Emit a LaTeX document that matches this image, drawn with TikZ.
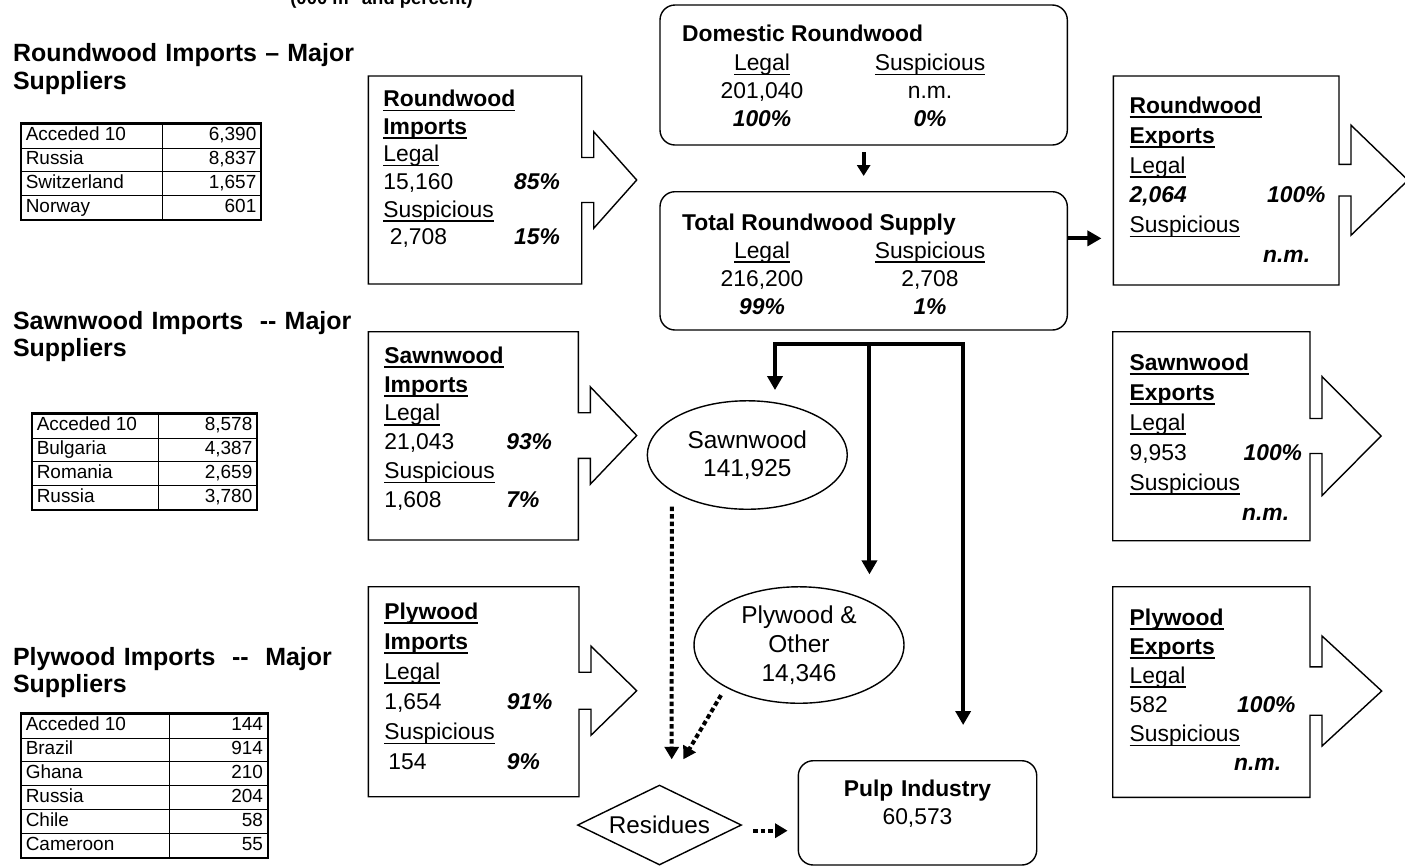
\documentclass[tikz,border=0pt]{standalone}
\usepackage{fontspec}
\setmainfont{Liberation Sans}
\usepackage{array}
\usetikzlibrary{shapes.geometric,arrows.meta,fit,calc}

\setlength{\tabcolsep}{0.08cm}
\newcommand\undl[1]{\leavevmode\setbox0\hbox{#1}\rlap{\rule[-2.6pt]{\wd0}{0.85pt}}\box0}
\newcommand\pct[1]{\textbf{\textit{#1}}}
% box with a block arrow on its right side
\newcommand\arrowbox[9]{%
  \node[fit={(#2,#3) (#4,#5)}, inner sep=0pt] (#1) {};
  \draw[boxline] (#2,#3) -- (#4,#3) -- (#4,{#6-#7}) -- ({#4+12},{#6-#7}) -- ({#4+12},{#6-#8})
    -- (#9,#6) -- ({#4+12},{#6+#8}) -- ({#4+12},{#6+#7}) -- (#4,{#6+#7}) -- (#4,#5) -- (#2,#5) -- cycle;}

\begin{document}
\begin{tikzpicture}[
    x=0.02cm, y=-0.02cm,
    boxline/.style={line width=0.8pt},
    roundbox/.style={draw, line width=0.8pt, rounded corners=0.3cm, inner sep=0pt},
    flow/.style={-{Triangle[width=0.3cm,length=0.28cm]}, line width=0.08cm},
    smallflow/.style={-{Triangle[width=0.26cm,length=0.22cm]}, line width=0.08cm},
    dotflow/.style={-{Triangle[width=0.28cm,length=0.25cm]}, line width=0.08cm, dash pattern=on 0.09cm off 0.06cm},
    hdr/.style={anchor=base west, inner sep=0pt, text width=8cm, align=left, font=\fontsize{14.2}{15.9}\selectfont\bfseries},
    suptab/.style={anchor=north west, inner sep=0pt, font=\fontsize{10.8}{13.2}\selectfont},
    boxtext/.style={anchor=base west, inner sep=0pt, text width=5cm, align=left, font=\fontsize{13}{#1}\selectfont},
    boxtext/.default=16.4pt,
    titletext/.style={anchor=base west, inner sep=0pt, font=\fontsize{13}{15.9}\selectfont\bfseries},
    coltext/.style={anchor=base, inner sep=0pt, text width=3cm, align=center, font=\fontsize{13}{15.9}\selectfont},
    oval/.style={ellipse, draw, line width=0.8pt, inner sep=0pt, align=center}
]
    \useasboundingbox (0,0) rectangle (1405,867);
    \clip (0,0) rectangle (1405,867);

    \node[anchor=base west, inner sep=0pt, font=\fontsize{10.5}{12}\selectfont\bfseries] (unit) at (290,4) {(000 m\textsuperscript{3} and percent)};

    % Major suppliers
    \node[hdr] (rwhdr) at (12.7,61.7) {Roundwood Imports – Major\\Suppliers};
    \node[suptab] (rwtab) at (20.7,123.3) {\begin{tabular}{|p{2.646cm}|>{\raggedleft\arraybackslash}p{1.792cm}|}\hline
        Acceded 10 & 6,390\\\hline Russia & 8,837\\\hline Switzerland & 1,657\\\hline Norway & 601\\\hline\end{tabular}};
    \draw[line width=1.1pt] (rwtab.north west) rectangle (rwtab.south east);

    \node[hdr] (swhdr) at (12.7,329) {Sawnwood Imports\ \ -{}- Major\\Suppliers};
    \node[suptab] (swtab) at (31.7,413.3) {\begin{tabular}{|p{2.338cm}|>{\raggedleft\arraybackslash}p{1.8cm}|}\hline
        Acceded 10 & 8,578\\\hline Bulgaria & 4,387\\\hline Romania & 2,659\\\hline Russia & 3,780\\\hline\end{tabular}};
    \draw[line width=1.1pt] (swtab.north west) rectangle (swtab.south east);

    \node[hdr] (plhdr) at (12.7,665) {Plywood Imports\ \ -{}-\ \ Major\\Suppliers};
    \node[suptab] (pltab) at (20.7,713.3) {\begin{tabular}{|p{2.778cm}|>{\raggedleft\arraybackslash}p{1.794cm}|}\hline
        Acceded 10 & 144\\\hline Brazil & 914\\\hline Ghana & 210\\\hline Russia & 204\\\hline Chile & 58\\\hline Cameroon & 55\\\hline\end{tabular}};
    \draw[line width=1.1pt] (pltab.north west) rectangle (pltab.south east);

    % Imports
    \arrowbox{rwimp}{368.3}{76}{581.7}{284}{180}{22.5}{48.3}{636.7}
    \node[boxtext=15.7pt, text width=3.53cm] (rwimptext) at (383,106.7) {\undl{\textbf{Roundwood}}\\\undl{\textbf{Imports}}\\\undl{Legal}\\
        15,160\hfill\pct{85\%}\\\undl{Suspicious}\\\hspace*{0.13cm}2,708\hfill\pct{15\%}};
    \arrowbox{swimp}{368.3}{331.7}{578.3}{540}{435.5}{22.8}{48.7}{636.7}
    \node[boxtext=16.4pt] (swimptext) at (384,363.3) {\undl{\textbf{Sawnwood}}\\\undl{\textbf{Imports}}\\\undl{Legal}\\
        \makebox[2.44cm][l]{21,043}\pct{93\%}\\\undl{Suspicious}\\\makebox[2.44cm][l]{1,608}\pct{7\%}};
    \arrowbox{plimp}{368.3}{586.7}{579}{796.7}{690.7}{18.5}{44.5}{636.7}
    \node[boxtext=17.1pt] (plimptext) at (384,619.3) {\undl{\textbf{Plywood}}\\\undl{\textbf{Imports}}\\\undl{Legal}\\
        \makebox[2.45cm][l]{1,654}\pct{91\%}\\\undl{Suspicious}\\\makebox[2.45cm][l]{\hspace*{0.08cm}154}\pct{9\%}};

    % Exports
    \arrowbox{rwexp}{1113.3}{76}{1339}{285}{180.2}{15.8}{55}{1408}
    \node[boxtext=17pt] (rwexptext) at (1129.3,113.3) {\undl{\textbf{Roundwood}}\\\undl{\textbf{Exports}}\\\undl{Legal}\\
        \makebox[2.75cm][l]{\pct{2,064}}\pct{100\%}\\\undl{Suspicious}\\\hspace*{2.67cm}\pct{n.m.}};
    \arrowbox{swexp}{1112.7}{331.7}{1310}{540.7}{436}{17.5}{59.5}{1381}
    \node[boxtext=17.1pt] (swexptext) at (1129.3,370) {\undl{\textbf{Sawnwood}}\\\undl{\textbf{Exports}}\\\undl{Legal}\\
        \makebox[2.28cm][l]{9,953}\pct{100\%}\\\undl{Suspicious}\\\hspace*{2.25cm}\pct{n.m.}};
    \arrowbox{plexp}{1112.7}{586.7}{1310}{797.3}{691}{24.2}{55}{1381.7}
    \node[boxtext=16.6pt] (plexptext) at (1129.3,625) {\undl{\textbf{Plywood}}\\\undl{\textbf{Exports}}\\\undl{Legal}\\
        \makebox[2.15cm][l]{582}\pct{100\%}\\\undl{Suspicious}\\\hspace*{2.09cm}\pct{n.m.}};

    % Roundwood supply
    \node[roundbox, fit={(660,5) (1067.3,145)}] (dom) {};
    \node[titletext] (domtitle) at (681.7,41.7) {Domestic Roundwood};
    \node[coltext] (domlegal) at (762,70.7) {\undl{Legal}\\201,040\\\pct{100\%}};
    \node[coltext] (domsusp) at (930,70.7) {\undl{Suspicious}\\n.m.\\\pct{0\%}};

    \node[roundbox, fit={(660,191.7) (1067.3,330)}] (total) {};
    \node[titletext] (tottitle) at (681.7,230) {Total Roundwood Supply};
    \node[coltext] (totlegal) at (762,258.3) {\undl{Legal}\\216,200\\\pct{99\%}};
    \node[coltext] (totsusp) at (930,258.3) {\undl{Suspicious}\\2,708\\\pct{1\%}};

    % Processing
    \node[oval, minimum width=4cm, minimum height=2.17cm, font=\fontsize{13.9}{16.1}\selectfont] (sawn) at (747.3,455) {Sawnwood\\141,925};
    \node[oval, minimum width=4.2cm, minimum height=2.33cm, font=\fontsize{13.9}{16.6}\selectfont] (ply) at (799,645) {Plywood \&\\Other\\14,346};
    \node[diamond, draw, line width=0.8pt, aspect=2.05, minimum width=3.28cm, minimum height=1.6cm, inner sep=0pt,
        font=\fontsize{13.8}{16}\selectfont] (resid) at (659.5,825) {Residues};
    \node[roundbox, fit={(798.3,760.7) (1036.7,865)}] (pulp) {};
    \node[coltext, font=\fontsize{13}{16}\selectfont] (pulptext) at (917.5,796.7) {\textbf{Pulp Industry}\\60,573};

    % Flows
    \draw[smallflow] ([yshift=-0.134cm]dom.south) -- ([yshift=0.3cm]total.north);
    \coordinate (rwout) at ([yshift=0.45cm]total.east);
    \draw[flow] (rwout) -- ([xshift=-0.23cm]rwout -| rwexp.west);

    \coordinate (bus) at ([xshift=0.116cm,yshift=-0.266cm]total.south);
    \draw[flow] (bus) -| ([xshift=0.554cm,yshift=0.2cm]sawn.north);
    \draw[flow] (bus) -- ([yshift=0.234cm]bus |- ply.north);
    \draw[flow] (bus) -| ([xshift=0.913cm,yshift=0.7cm]pulp.north);

    % Residues
    \draw[dotflow] ([xshift=-1.51cm,yshift=0.066cm]sawn.south) -- ([xshift=0.244cm,yshift=0.5cm]resid.north);
    \draw[dotflow, shorten <=0.18cm] (ply.210) -- ([xshift=0.476cm,yshift=0.5cm]resid.north);
    \coordinate (rp) at ([yshift=-0.114cm]resid.east);
    \draw[dotflow] ([xshift=0.22cm]rp) -- ([xshift=-0.2cm]rp -| pulp.west);

\end{tikzpicture}
\end{document}
